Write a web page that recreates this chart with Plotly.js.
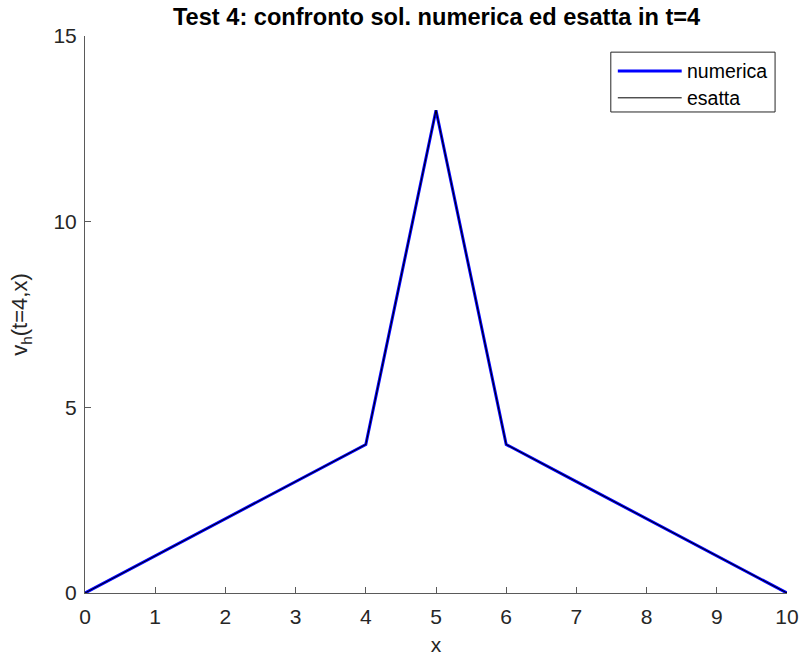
<!DOCTYPE html>
<html><head><meta charset="utf-8">
<script src="https://cdn.plot.ly/plotly-3.0.1.min.js"></script>
<style>html,body{margin:0;padding:0;background:#fff}#c{width:804px;height:659px}</style>
</head><body><div id="c"></div>
<script>
const xVals = [0,1,2,3,4,5,6,7,8,9,10];
const numerica = [0,1,2,3,4,13,4,3,2,1,0];
const esatta = [0,1,2,3,4,13,4,3,2,1,0];
const xTicks = [0,1,2,3,4,5,6,7,8,9,10];
const yTicks = [0,5,10,15];
const seriesNames = ['numerica','esatta'];

const F = 'Liberation Sans, Arial, sans-serif';
const traces = [
  {x:xVals,y:numerica,mode:'lines',name:seriesNames[0],line:{color:'#0000ff',width:3},showlegend:false},
  {x:xVals,y:esatta,mode:'lines',name:seriesNames[1],line:{color:'#000000',width:1},showlegend:false}
];
const axisCommon = {showgrid:false,zeroline:false,showline:true,linecolor:'#5a5a5a',linewidth:1,
  ticks:'inside',ticklen:6,tickcolor:'#5a5a5a',tickfont:{family:F,size:21,color:'#262626'},mirror:false};
const layout = {
  width:804,height:659,margin:{l:85,r:17,t:36,b:66},
  paper_bgcolor:'#fff',plot_bgcolor:'#fff',showlegend:false,
  title:{text:'<b>Test 4: confronto sol. numerica ed esatta in t=4</b>',font:{family:F,size:23.6,color:'#000'},x:0.543,xanchor:'center',y:0.975,yanchor:'middle'},
  xaxis:Object.assign({},axisCommon,{range:[0,10],tickvals:xTicks,ticktext:xTicks.map(String),ticklabelstandoff:5,
    title:{text:'x',font:{family:F,size:21,color:'#262626'},standoff:10}}),
  yaxis:Object.assign({},axisCommon,{range:[0,15],tickvals:yTicks,ticktext:yTicks.map(String),ticklabelstandoff:3,
    title:{text:'v<sub>h</sub>(t=4,x)',font:{family:F,size:22,color:'#262626'},standoff:19}}),
  shapes:[
    {type:'rect',xref:'paper',yref:'paper',x0:0.749,x1:0.983,y0:0.8636,y1:0.971,line:{color:'#262626',width:1},fillcolor:'#fff'},
    {type:'line',xref:'paper',yref:'paper',x0:0.759,x1:0.850,y0:0.937,y1:0.937,line:{color:'#0000ff',width:3}},
    {type:'line',xref:'paper',yref:'paper',x0:0.759,x1:0.850,y0:0.889,y1:0.889,line:{color:'#000',width:1}}
  ],
  annotations:[
    {xref:'paper',yref:'paper',x:0.854,y:0.937,text:seriesNames[0],showarrow:false,xanchor:'left',yanchor:'middle',font:{family:F,size:19.5,color:'#000'}},
    {xref:'paper',yref:'paper',x:0.854,y:0.889,text:seriesNames[1],showarrow:false,xanchor:'left',yanchor:'middle',font:{family:F,size:19.5,color:'#000'}}
  ]
};
Plotly.newPlot('c',traces,layout,{displayModeBar:false,staticPlot:true});
</script></body></html>
